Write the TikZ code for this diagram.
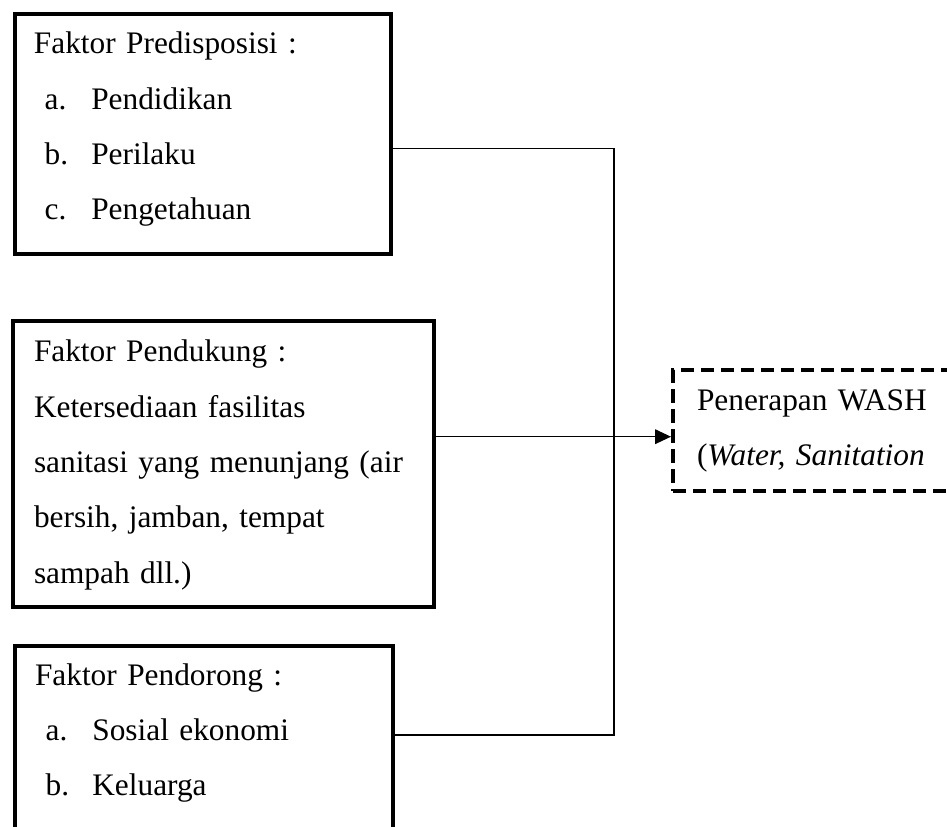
\documentclass[tikz,border=0pt]{standalone}
\usepackage{fontspec}
\setmainfont{Liberation Serif}
\usetikzlibrary{arrows.meta,positioning}

% list item: label, then text
\newcommand{\itm}[2]{\hspace*{8pt}\makebox[35pt][l]{#1}#2}

\begin{document}
\begin{tikzpicture}[
    x=0.75pt, y=0.75pt,
    fbox/.style={rectangle, draw=black, line width=3pt, anchor=north west, align=left, inner ysep=0pt, font=\fontsize{23.5pt}{41.5pt}\selectfont},
    wbox/.style={fbox, dash pattern=on 10pt off 5pt},
    link/.style={line width=1.2pt, draw=black},
    arrow/.style={link, -{Triangle[length=12pt, width=11pt]}},
]
    \useasboundingbox (0,0) rectangle (947,-827);
    \clip (0,0) rectangle (947,-827);

    % --- Left column: factor boxes ---
    \node[fbox, inner xsep=14.6pt, text width=253.5pt, text height=29.6pt, text depth=150.4pt] (pred) at (12.5,-12.5)
        {Faktor Predisposisi :\\ \itm{a.}{Pendidikan}\\ \itm{b.}{Perilaku}\\ \itm{c.}{Pengetahuan}};

    \node[fbox, inner xsep=15.75pt, text width=284.6pt, text height=30.75pt, text depth=183.4pt] (supp) at (11,-319)
        {Faktor Pendukung :\\ Ketersediaan fasilitas\\ sanitasi yang menunjang (air\\ bersih, jamban, tempat\\ sampah dll.)};

    \node[fbox, inner xsep=15.4pt, text width=252.7pt, text height=29.25pt, text depth=190pt] (push) at (12.5,-644)
        {Faktor Pendorong :\\ \itm{a.}{Sosial ekonomi}\\ \itm{b.}{Keluarga}};

    % --- Right: outcome box ---
    \node[wbox, inner xsep=18pt, text width=264pt, text height=30pt, text depth=60.75pt] (wash) at (671,-368.3)
        {Penerapan WASH\\ (\textit{Water, Sanitation}};

    % --- Connectors ---
    \coordinate (jtop) at (614,-148.5);
    \coordinate (jbot) at (614,-735);
    \coordinate (amid) at (614,-436.7);
    \draw[link] (pred.east |- jtop) -- (jtop) -- (jbot) -- (push.east |- jbot);
    \draw[arrow] (supp.east |- amid) -- (wash.west |- amid);

\end{tikzpicture}
\end{document}
